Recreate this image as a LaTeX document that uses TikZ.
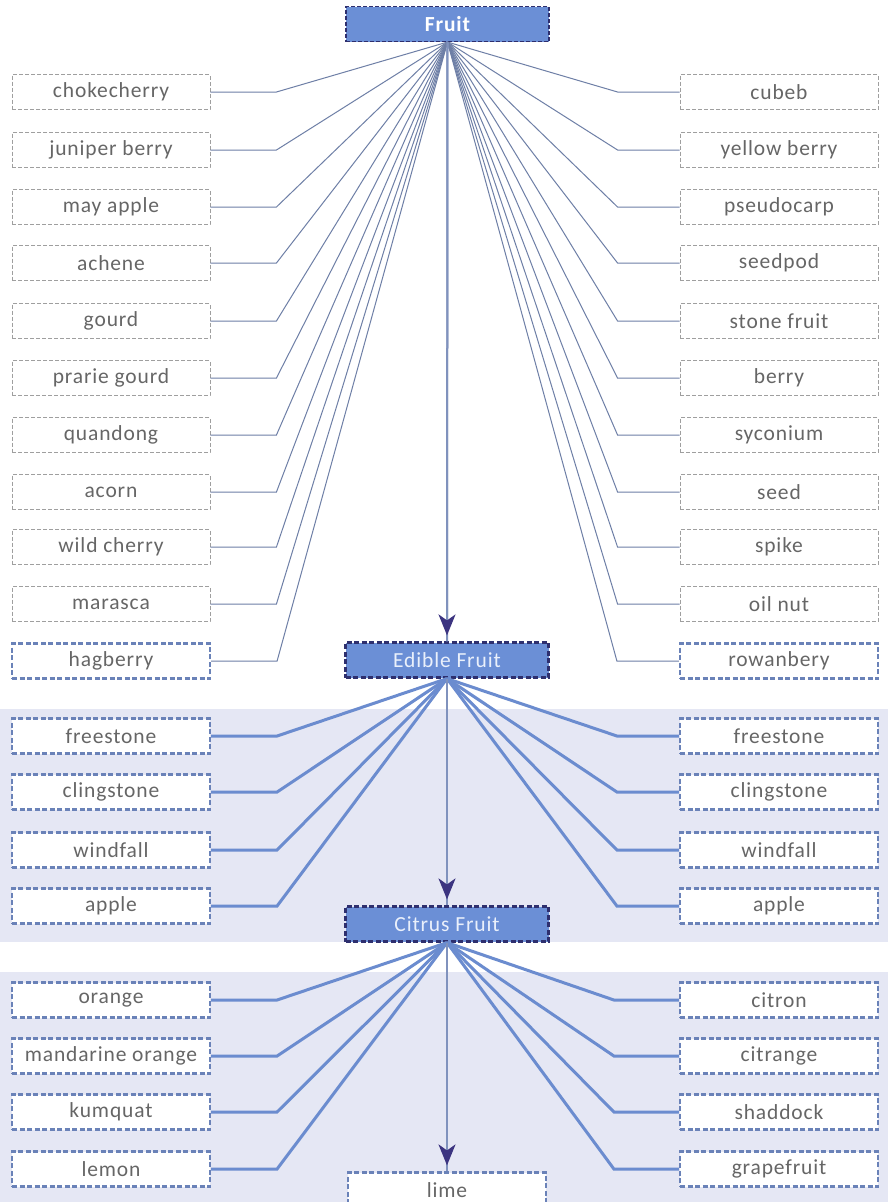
\documentclass[tikz,border=0pt]{standalone}
\usepackage{fontspec}
\setmainfont{Carlito}[LetterSpace=4]
\usetikzlibrary{arrows.meta}
\definecolor{band}{HTML}{E5E7F4}
\definecolor{hubblue}{HTML}{6B8FD6}
\definecolor{navy}{HTML}{2E2F6E}
\definecolor{tipcol}{HTML}{3C3480}
\definecolor{vcol}{HTML}{8092BD}
\definecolor{thin}{HTML}{6E7FA6}
\definecolor{thick}{HTML}{6B8CCF}
\definecolor{txt}{HTML}{666666}
\definecolor{leafblue}{HTML}{6A82B8}
\definecolor{hubtxt}{HTML}{EAF0FB}
\tikzset{
  leaf/.style={draw=gray!75, dash pattern=on 4pt off 2pt, line width=0.9pt, fill=white,
    minimum width=198pt, minimum height=35pt, inner sep=0pt, text=txt,
    font=\fontsize{21.5}{24}\selectfont},
  leafb/.style={leaf, draw=leafblue, line width=2.2pt, dash pattern=on 5pt off 2.5pt},
  hub/.style={draw=navy, fill=hubblue, line width=2.2pt, dash pattern=on 5pt off 2.5pt,
    minimum width=203pt, minimum height=35pt, inner sep=0pt, text=hubtxt,
    font=\fontsize{21.5}{24}\selectfont},
  topline/.style={draw=thin, line width=1pt},
  thickline/.style={draw=thick, line width=3pt},
  vline/.style={draw=vcol, line width=2pt},
  varrow/.style={vline, shorten >=6pt, -{Stealth[color=tipcol, length=21pt, width=17pt, inset=6pt]}},
}
\begin{document}
\begin{tikzpicture}[x=1pt,y=-1pt]
\useasboundingbox (0,0) rectangle (888,1202);
\fill[white] (0,0) rectangle (888,1202);
\fill[band] (0,709) rectangle (888,942);
\fill[band] (0,972) rectangle (888,1202);

% hubs
\node[hub, line width=1.1pt, dash pattern=on 4pt off 2pt, font=\fontsize{21.5}{24}\selectfont\bfseries, text=white] (fruit) at (447.5,24) {Fruit};
\node[hub] (edible) at (447,660) {Edible Fruit};
\node[hub] (citrus) at (447,924) {Citrus Fruit};
\node[leafb] (lime) at (447,1190) {lime};

% top section, left
\node[leaf] (l1) at (111,92) {chokecherry};
\node[leaf] (l2) at (111,150) {juniper berry};
\node[leaf] (l3) at (111,207) {may apple};
\node[leaf] (l4) at (111,263) {achene};
\node[leaf] (l5) at (111,321) {gourd};
\node[leaf] (l6) at (111,378) {prarie gourd};
\node[leaf] (l7) at (111,435) {quandong};
\node[leaf] (l8) at (111,492) {acorn};
\node[leaf] (l9) at (111,547) {wild cherry};
\node[leaf] (l10) at (111,604) {marasca};
\node[leafb] (l11) at (111,661) {hagberry};
% top section, right
\node[leaf] (r1) at (779,92) {cubeb};
\node[leaf] (r2) at (779,150) {yellow berry};
\node[leaf] (r3) at (779,207) {pseudocarp};
\node[leaf] (r4) at (779,263) {seedpod};
\node[leaf] (r5) at (779,321) {stone fruit};
\node[leaf] (r6) at (779,378) {berry};
\node[leaf] (r7) at (779,435) {syconium};
\node[leaf] (r8) at (779,492) {seed};
\node[leaf] (r9) at (779,547) {spike};
\node[leaf] (r10) at (779,604) {oil nut};
\node[leafb] (r11) at (779,661) {rowanbery};

% edible section
\node[leafb] (el1) at (111,736) {freestone};
\node[leafb] (el2) at (111,792) {clingstone};
\node[leafb] (el3) at (111,850) {windfall};
\node[leafb] (el4) at (111,906) {apple};
\node[leafb] (er1) at (779,736) {freestone};
\node[leafb] (er2) at (779,792) {clingstone};
\node[leafb] (er3) at (779,850) {windfall};
\node[leafb] (er4) at (779,906) {apple};

% citrus section
\node[leafb] (cl1) at (111,1000) {orange};
\node[leafb] (cl2) at (111,1056) {mandarine orange};
\node[leafb] (cl3) at (111,1112) {kumquat};
\node[leafb] (cl4) at (111,1169) {lemon};
\node[leafb] (cr1) at (779,1000) {citron};
\node[leafb] (cr2) at (779,1056) {citrange};
\node[leafb] (cr3) at (779,1112) {shaddock};
\node[leafb] (cr4) at (779,1169) {grapefruit};

% connectors top
\foreach \n in {l1,l2,l3,l4,l5,l6,l7,l8,l9,l10,l11}
  \draw[topline] (\n.east) -- ++(66,0) -- (fruit.south);
\foreach \n in {r1,r2,r3,r4,r5,r6,r7,r8,r9,r10,r11}
  \draw[topline] (\n.west) -- ++(-62,0) -- (fruit.south);
% connectors edible
\foreach \n in {el1,el2,el3,el4}
  \draw[thickline] (\n.east) -- ++(66,0) -- (edible.south);
\foreach \n in {er1,er2,er3,er4}
  \draw[thickline] (\n.west) -- ++(-62,0) -- (edible.south);
% connectors citrus
\foreach \n in {cl1,cl2,cl3,cl4}
  \draw[thickline] (\n.east) -- ++(66,0) -- (citrus.south);
\foreach \n in {cr1,cr2,cr3,cr4}
  \draw[thickline] (\n.west) -- ++(-65,0) -- (citrus.south);

% vertical arrows
\draw[vline] (fruit.south) -- (edible.north);
\draw[varrow] (fruit.south) -- (edible.north);
\draw[vline] (edible.south) -- (citrus.north);
\draw[varrow] (edible.south) -- (citrus.north);
\draw[vline] (citrus.south) -- (lime.north);
\draw[varrow] (citrus.south) -- (lime.north);
\end{tikzpicture}
\end{document}
